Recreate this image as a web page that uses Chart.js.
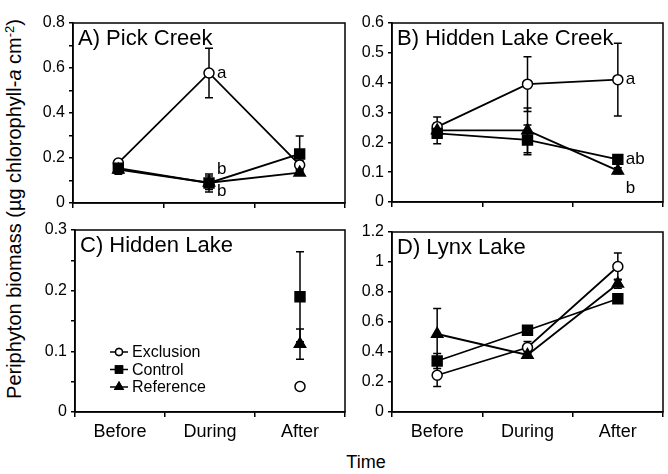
<!DOCTYPE html>
<html>
<head>
<meta charset="utf-8">
<script src="https://cdn.jsdelivr.net/npm/chart.js@4.4.1/dist/chart.umd.min.js"></script>
<style>
  body { margin: 0; background: #fff; }
  #wrap { position: relative; width: 668px; height: 474px; overflow: hidden; font-family: "Liberation Sans", Arial, sans-serif; }
  canvas { position: absolute; }
  #ytitle { position: absolute; left: 14px; top: 209px; transform: translate(-50%, -50%) rotate(-90deg); white-space: nowrap; font-size: 20px; color: #000; }
  #ytitle sup { font-size: 13px; }
  #xtitle { position: absolute; left: 366px; top: 452px; transform: translateX(-50%); font-size: 18px; color: #000; }
</style>
</head>
<body>
<div id="wrap">
  <canvas id="cA" style="left:28px;top:8px" width="322" height="210"></canvas>
  <canvas id="cB" style="left:350px;top:8px" width="318" height="209"></canvas>
  <canvas id="cC" style="left:28px;top:215px" width="322" height="227"></canvas>
  <canvas id="cD" style="left:350px;top:217px" width="318" height="225"></canvas>
  <div id="ytitle">Periphyton biomass (µg chlorophyll-<i>a</i> cm<sup>-2</sup>)</div>
  <div id="xtitle">Time</div>
</div>
<script>
var periods = ['Before', 'During', 'After'];
var seriesNames = ['Exclusion', 'Control', 'Reference'];

// A) Pick Creek
var pickExcl = [0.178, 0.578, 0.169];
var pickExclErr = [0.01, 0.11, 0.02];
var pickCtrl = [0.155, 0.089, 0.218];
var pickCtrlErr = [0.015, 0.04, 0.08];
var pickRef = [0.148, 0.09, 0.135];
var pickRefErr = [0.02, 0.03, 0.01];

// B) Hidden Lake Creek
var hlcExcl = [0.252, 0.395, 0.41];
var hlcExclErr = [0.033, 0.092, 0.122];
var hlcCtrl = [0.23, 0.208, 0.143];
var hlcCtrlErr = [0.035, 0.05, 0.015];
var hlcRef = [0.24, 0.24, 0.105];
var hlcRefErr = [0.02, 0.075, 0.01];

// C) Hidden Lake
var hlExcl = [null, null, 0.042];
var hlExclErr = [null, null, 0];
var hlCtrl = [null, null, 0.19];
var hlCtrlErr = [null, null, 0.074];
var hlRef = [null, null, 0.112];
var hlRefErr = [null, null, 0.025];

// D) Lynx Lake
var lynxExcl = [0.245, 0.43, 0.97];
var lynxExclErr = [0.075, 0.04, 0.09];
var lynxCtrl = [0.34, 0.545, 0.755];
var lynxCtrlErr = [0.05, 0.03, 0.02];
var lynxRef = [0.52, 0.38, 0.855];
var lynxRefErr = [0.17, 0.02, 0.03];

// significance letters: [text, category index, y value]
var pickLetters = [['a', 1, 0.578], ['b', 1, 0.151], ['b', 1, 0.053]];
var hlcLetters = [['a', 2, 0.41], ['ab', 2, 0.143], ['b', 2, 0.047]];

Chart.defaults.font.family = '"Liberation Sans", Arial, sans-serif';
Chart.defaults.color = '#000';
Chart.defaults.animation = false;

var boxPlugin = {
    id: 'box',
    afterDraw: function (chart) {
        var a = chart.chartArea, ctx = chart.ctx;
        ctx.save();
        ctx.strokeStyle = '#000';
        ctx.lineWidth = 1.5;
        ctx.strokeRect(a.left, a.top, a.right - a.left, a.bottom - a.top);
        ctx.restore();
    }
};

var errorBarPlugin = {
    id: 'errorBars',
    beforeDatasetsDraw: function (chart) {
        var ctx = chart.ctx, yScale = chart.scales.y;
        ctx.save();
        ctx.strokeStyle = '#000';
        ctx.lineWidth = 1.5;
        chart.data.datasets.forEach(function (ds, i) {
            var meta = chart.getDatasetMeta(i);
            if (!ds.err) return;
            meta.data.forEach(function (pt, j) {
                var v = ds.data[j], e = ds.err[j];
                if (v == null || !e) return;
                var top = yScale.getPixelForValue(v + e);
                var bot = yScale.getPixelForValue(v - e);
                ctx.beginPath();
                ctx.moveTo(pt.x, top); ctx.lineTo(pt.x, bot);
                ctx.moveTo(pt.x - 4, top); ctx.lineTo(pt.x + 4, top);
                ctx.moveTo(pt.x - 4, bot); ctx.lineTo(pt.x + 4, bot);
                ctx.stroke();
            });
        });
        ctx.restore();
    }
};

var panelLabelPlugin = {
    id: 'panelLabel',
    afterDraw: function (chart, args, opts) {
        var ctx = chart.ctx, a = chart.chartArea;
        ctx.save();
        ctx.fillStyle = '#000';
        ctx.font = '22px "Liberation Sans", Arial, sans-serif';
        ctx.textBaseline = 'top';
        ctx.fillText(opts.text, a.left + 5, a.top + 5);
        ctx.font = '17px "Liberation Sans", Arial, sans-serif';
        ctx.textBaseline = 'middle';
        (opts.letters || []).forEach(function (l) {
            var x = chart.scales.x.getPixelForValue(l[1]);
            var y = chart.scales.y.getPixelForValue(l[2]);
            ctx.fillText(l[0], x + 8, y);
        });
        if (opts.legend) {
            ctx.font = '16px "Liberation Sans", Arial, sans-serif';
            var sets = chart.data.datasets.slice().reverse();
            sets.forEach(function (ds, i) {
                var y = a.top + 122 + i * 17.5;
                var x0 = a.left + 35;
                ctx.strokeStyle = '#000';
                ctx.lineWidth = 1.5;
                ctx.beginPath();
                ctx.moveTo(x0, y); ctx.lineTo(x0 + 18, y);
                ctx.stroke();
                Chart.helpers.drawPoint(ctx, {
                    pointStyle: ds.pointStyle,
                    radius: ds.pointRadius * 0.7,
                    borderWidth: 1.5
                }, x0 + 9, y);
                ctx.fillStyle = ds.pointBackgroundColor;
                ctx.strokeStyle = '#000';
                ctx.fill();
                ctx.stroke();
                ctx.fillStyle = '#000';
                ctx.fillText(ds.label, x0 + 22, y + 1);
            });
        }
        ctx.restore();
    }
};

function makeSet(label, data, err, style) {
    var base = {
        label: label,
        data: data,
        err: err,
        borderColor: '#000',
        borderWidth: 1.8,
        pointBorderColor: '#000',
        pointBorderWidth: 1.5,
        tension: 0,
        spanGaps: false
    };
    if (style === 'circle') {
        base.pointStyle = 'circle';
        base.pointRadius = 5;
        base.pointBackgroundColor = '#fff';
    } else if (style === 'rect') {
        base.pointStyle = 'rect';
        base.pointRadius = 7;
        base.pointBackgroundColor = '#000';
    } else {
        base.pointStyle = 'triangle';
        base.pointRadius = 6.5;
        base.pointBackgroundColor = '#000';
    }
    return base;
}

function makeChart(id, title, sets, yMax, step, labelEvery, yWidth, xHeight, showX, letters, legend) {
    return new Chart(document.getElementById(id), {
        type: 'line',
        data: {
            labels: periods,
            datasets: [
                makeSet(seriesNames[0], sets[0], sets[1], 'circle'),
                makeSet(seriesNames[1], sets[2], sets[3], 'rect'),
                makeSet(seriesNames[2], sets[4], sets[5], 'triangle')
            ].reverse()
        },
        options: {
            responsive: false,
            events: [],
            layout: { autoPadding: false, padding: { top: 15, right: 5, left: 0, bottom: 0 } },
            plugins: {
                legend: { display: false },
                tooltip: { enabled: false },
                panelLabel: { text: title, letters: letters, legend: legend }
            },
            scales: {
                x: {
                    offset: true,
                    grid: { offset: true, drawOnChartArea: false, drawTicks: true, tickLength: 5, color: '#000', lineWidth: 1.5 },
                    border: { display: true, color: '#000', width: 1.5 },
                    ticks: { display: showX, font: { size: 18 }, padding: 4, maxRotation: 0 },
                    afterFit: function (s) { s.height = xHeight; }
                },
                y: {
                    min: 0,
                    max: yMax,
                    grid: { drawOnChartArea: false, drawTicks: true, tickLength: 4, color: '#000', lineWidth: 1.5 },
                    border: { display: true, color: '#000', width: 1.5 },
                    ticks: {
                        stepSize: step,
                        padding: 4,
                        font: { size: 16 },
                        callback: function (v) {
                            var n = Math.round(v / step);
                            if (n % labelEvery !== 0) return '';
                            return String(Math.round(v * 100) / 100);
                        }
                    },
                    afterFit: function (s) { s.width = yWidth; }
                }
            }
        },
        plugins: [boxPlugin, errorBarPlugin, panelLabelPlugin]
    });
}

makeChart('cA', 'A) Pick Creek',
    [pickExcl, pickExclErr, pickCtrl, pickCtrlErr, pickRef, pickRefErr],
    0.8, 0.1, 2, 45, 15, false, pickLetters, false);
makeChart('cB', 'B) Hidden Lake Creek',
    [hlcExcl, hlcExclErr, hlcCtrl, hlcCtrlErr, hlcRef, hlcRefErr],
    0.6, 0.1, 1, 42, 15, false, hlcLetters, false);
makeChart('cC', 'C) Hidden Lake',
    [hlExcl, hlExclErr, hlCtrl, hlCtrlErr, hlRef, hlRefErr],
    0.3, 0.05, 2, 47, 30, true, [], true);
makeChart('cD', 'D) Lynx Lake',
    [lynxExcl, lynxExclErr, lynxCtrl, lynxCtrlErr, lynxRef, lynxRefErr],
    1.2, 0.2, 1, 42, 30, true, [], false);
</script>
</body>
</html>
